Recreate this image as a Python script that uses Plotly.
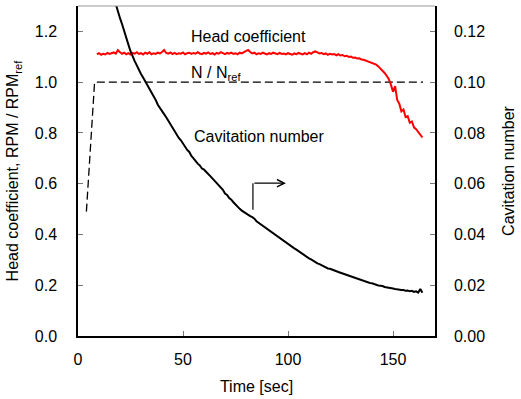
import plotly.graph_objects as go

# ---------------- data ----------------
# Cavitation number (right axis), sampled every 1 s from t=17 to t=164
cav_time = list(range(17, 165))
cav_value = [
    0.1335, 0.1305, 0.1280, 0.1252, 0.1228, 0.1198, 0.1175, 0.1148, 0.1122, 0.1100,
    0.1083, 0.1066, 0.1046, 0.1032, 0.1018, 0.1004, 0.0991, 0.0974, 0.0960, 0.0944,
    0.0930, 0.0911, 0.0900, 0.0885, 0.0874, 0.0862, 0.0848, 0.0835, 0.0822, 0.0806,
    0.0796, 0.0780, 0.0771, 0.0757, 0.0746, 0.0733, 0.0725, 0.0709, 0.0700, 0.0687,
    0.0679, 0.0672, 0.0660, 0.0656, 0.0645, 0.0638, 0.0630, 0.0621, 0.0612, 0.0603,
    0.0596, 0.0583, 0.0576, 0.0561, 0.0556, 0.0543, 0.0537, 0.0527, 0.0518, 0.0506,
    0.0501, 0.0494, 0.0488, 0.0481, 0.0477, 0.0472, 0.0468, 0.0462, 0.0452, 0.0446,
    0.0441, 0.0433, 0.0428, 0.0420, 0.0416, 0.0409, 0.0403, 0.0397, 0.0392, 0.0385,
    0.0381, 0.0373, 0.0368, 0.0361, 0.0355, 0.0351, 0.0345, 0.0340, 0.0334, 0.0330,
    0.0322, 0.0318, 0.0311, 0.0306, 0.0302, 0.0296, 0.0293, 0.0286, 0.0283, 0.0279,
    0.0273, 0.0272, 0.0266, 0.0265, 0.0261, 0.0260, 0.0254, 0.0252, 0.0249, 0.0246,
    0.0243, 0.0240, 0.0236, 0.0235, 0.0230, 0.0228, 0.0226, 0.0222, 0.0221, 0.0217,
    0.0214, 0.0212, 0.0209, 0.0208, 0.0204, 0.0203, 0.0199, 0.0198, 0.0197, 0.0193,
    0.0192, 0.0189, 0.0188, 0.0187, 0.0185, 0.0183, 0.0184, 0.0181, 0.0181, 0.0178,
    0.0179, 0.0176, 0.0178, 0.0174, 0.0176, 0.0171, 0.0185, 0.0170,
]

# Head coefficient (left axis), sampled every 1 s from t=9 to t=164
head_time = list(range(9, 165))
head_value = [
    1.110, 1.114, 1.108, 1.112, 1.109, 1.115, 1.111, 1.113, 1.117, 1.112,
    1.126, 1.118, 1.112, 1.116, 1.110, 1.114, 1.109, 1.115, 1.112, 1.118,
    1.111, 1.114, 1.109, 1.116, 1.112, 1.118, 1.110, 1.114, 1.111, 1.116,
    1.113, 1.119, 1.127, 1.115, 1.112, 1.117, 1.111, 1.115, 1.110, 1.114,
    1.112, 1.117, 1.110, 1.114, 1.116, 1.111, 1.115, 1.112, 1.118, 1.113,
    1.110, 1.115, 1.112, 1.117, 1.111, 1.114, 1.109, 1.115, 1.112, 1.118,
    1.113, 1.110, 1.115, 1.112, 1.116, 1.111, 1.114, 1.110, 1.116, 1.113,
    1.118, 1.121, 1.127, 1.119, 1.113, 1.116, 1.110, 1.114, 1.111, 1.116,
    1.112, 1.109, 1.114, 1.111, 1.116, 1.112, 1.110, 1.115, 1.111, 1.113,
    1.109, 1.114, 1.111, 1.108, 1.113, 1.110, 1.115, 1.111, 1.109, 1.114,
    1.110, 1.116, 1.112, 1.118, 1.121, 1.117, 1.113, 1.115, 1.110, 1.113,
    1.108, 1.112, 1.109, 1.111, 1.106, 1.110, 1.105, 1.107, 1.102, 1.104,
    1.099, 1.101, 1.096, 1.097, 1.093, 1.094, 1.089, 1.088, 1.085, 1.083,
    1.078, 1.077, 1.073, 1.069, 1.062, 1.054, 1.046, 1.036, 1.025, 1.012,
    0.990, 0.962, 0.984, 0.930, 0.915, 0.885, 0.892, 0.862, 0.866, 0.840,
    0.845, 0.822, 0.815, 0.805, 0.793, 0.782,
]

# Rotational speed ratio N / Nref (left axis)
speed_time = [4.0, 7.9, 164.3]
speed_value = [0.49, 1.0, 1.0]

x_ticks = [0, 50, 100, 150]
y_left_ticks = [0.0, 0.2, 0.4, 0.6, 0.8, 1.0, 1.2]
y_right_ticks = [0.00, 0.02, 0.04, 0.06, 0.08, 0.10, 0.12]

FONT = "Arial, Liberation Sans, sans-serif"
TITLE_FONT = dict(family=FONT, size=16, color="black")

fig = go.Figure()

fig.add_trace(go.Scatter(
    x=speed_time, y=speed_value, mode="lines",
    line=dict(color="black", width=1.3, dash="8px,4px"),
    yaxis="y", showlegend=False, hoverinfo="skip"))

fig.add_trace(go.Scatter(
    x=head_time, y=head_value, mode="lines",
    line=dict(color="#ff0000", width=2),
    yaxis="y", showlegend=False, hoverinfo="skip"))

fig.add_trace(go.Scatter(
    x=cav_time, y=cav_value, mode="lines",
    line=dict(color="black", width=2),
    yaxis="y2", showlegend=False, hoverinfo="skip"))

fig.update_layout(
    width=521, height=399,
    margin=dict(l=78, r=83, t=6, b=63),
    paper_bgcolor="white", plot_bgcolor="white",
    font=dict(family=FONT, size=16, color="black"),
    xaxis=dict(
        range=[0, 170], tickvals=x_ticks, ticks="inside", ticklen=5,
        tickcolor="#777", showline=True, linecolor="black", linewidth=1.5,
        showgrid=False, zeroline=False, ticklabelstandoff=8,
        title=dict(text="Time [sec]", standoff=14, font=TITLE_FONT),
    ),
    yaxis=dict(
        range=[0, 1.3], tickvals=y_left_ticks, tickformat=".1f",
        ticks="inside", ticklen=5, tickcolor="#777",
        showline=True, linecolor="black", linewidth=1.5,
        showgrid=False, zeroline=False, ticklabelstandoff=16,
        title=dict(text="Head coefficient, RPM / RPM<sub>ref</sub>", standoff=12,
                   font=TITLE_FONT),
    ),
    yaxis2=dict(
        range=[0, 0.13], tickvals=y_right_ticks, tickformat=".2f",
        overlaying="y", side="right",
        ticks="inside", ticklen=5, tickcolor="#777",
        showline=True, linecolor="black", linewidth=1.5,
        showgrid=False, zeroline=False, ticklabelstandoff=14,
        title=dict(text="Cavitation number", standoff=19, font=TITLE_FONT),
    ),
)

# top frame line (gray)
fig.add_shape(type="line", xref="paper", yref="paper", x0=0, x1=1, y0=1, y1=1,
              line=dict(color="#999", width=1))

# labels
labels = [
    ("Head coefficient", 52.7, 1.178),
    ("N / N<sub>ref</sub>", 52.7, 1.036),
    ("Cavitation number", 54.2, 0.787),
]
for txt, lx, ly in labels:
    fig.add_annotation(x=lx, y=ly, xref="x", yref="y", text=txt, showarrow=False,
                       xanchor="left", yanchor="middle",
                       font=dict(family=FONT, size=16, color="black"))

# bent arrow pointing to the right axis
arrow_x0, arrow_x1 = 83.3, 99.0
arrow_y0, arrow_y1 = 0.497, 0.602
fig.add_shape(type="line", xref="x", yref="y", x0=arrow_x0, x1=arrow_x0,
              y0=arrow_y0, y1=arrow_y1, line=dict(color="black", width=1.2))
fig.add_annotation(x=arrow_x1, y=arrow_y1, ax=arrow_x0, ay=arrow_y1,
                   xref="x", yref="y", axref="x", ayref="y", text="",
                   showarrow=True, arrowhead=5, arrowsize=1.2, arrowwidth=1.2,
                   arrowcolor="black")

fig.write_html("out.html")
